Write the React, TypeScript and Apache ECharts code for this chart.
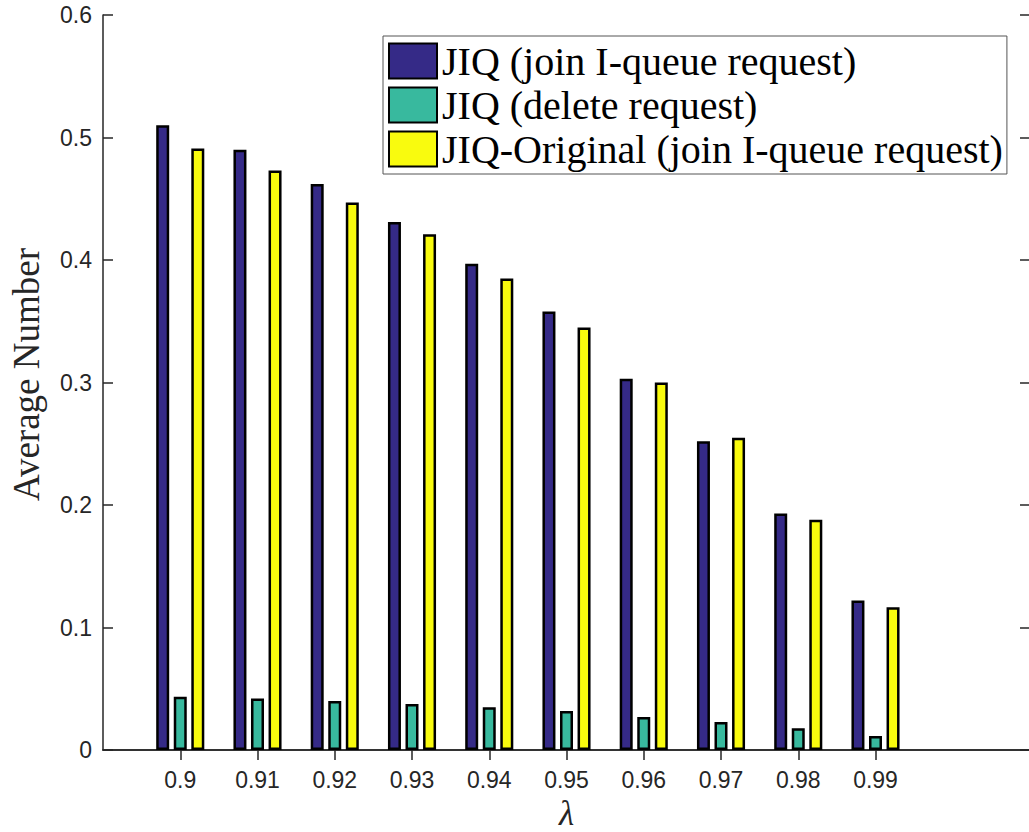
import React, { useEffect, useRef } from "react";
import * as echarts from "echarts";

const categories = ["", "0.9", "0.91", "0.92", "0.93", "0.94", "0.95", "0.96", "0.97", "0.98", "0.99", "", ""];
const joinRequest = [0.51, 0.49, 0.462, 0.431, 0.397, 0.358, 0.303, 0.252, 0.193, 0.122];
const deleteRequest = [0.0435, 0.042, 0.04, 0.0376, 0.0348, 0.0318, 0.027, 0.0229, 0.0177, 0.0114];
const originalJoin = [0.491, 0.473, 0.447, 0.421, 0.385, 0.345, 0.3, 0.255, 0.188, 0.1165];
const seriesNames = [
  "JIQ (join I-queue request)",
  "JIQ (delete request)",
  "JIQ-Original (join I-queue request)",
];
const seriesColors = ["#352A87", "#38B99E", "#F9FB0E"];
const yTicks = { min: 0, max: 0.6, interval: 0.1 };

const pad = (arr: number[]) => [null, ...arr, null, null];

export default function App() {
  const ref = useRef<HTMLDivElement>(null);
  useEffect(() => {
    if (!ref.current) return;
    const chart = echarts.init(ref.current, null, { renderer: "svg" });
    const axisColor = "#262626";
    const tickInterval = (_i: number, v: string) => v !== "";
    const seriesData = [joinRequest, deleteRequest, originalJoin];
    chart.setOption({
      animation: false,
      backgroundColor: "#ffffff",
      grid: {
        left: 103,
        top: 15,
        width: 927,
        height: 735,
        containLabel: false,
        outerBoundsMode: "none",
      },
      legend: {
        orient: "vertical",
        left: 383,
        top: 36,
        data: seriesNames,
        itemWidth: 48,
        itemHeight: 35,
        itemGap: 4,
        padding: [5, 4, 5, 5],
        backgroundColor: "#ffffff",
        borderColor: "#555555",
        borderWidth: 1,
        borderRadius: 0,
        icon: "rect",
        textStyle: {
          fontFamily: "Liberation Serif",
          fontSize: 40,
          color: "#000000",
          padding: [0, 0, 0, 0],
        },
      },
      xAxis: [
        {
          type: "category",
          data: categories,
          boundaryGap: false,
          position: "bottom",
          name: "λ",
          nameLocation: "middle",
          nameGap: 37,
          nameTextStyle: {
            fontFamily: "Liberation Serif",
            fontStyle: "italic",
            fontSize: 35,
            color: axisColor,
          },
          axisLine: { show: true, lineStyle: { color: axisColor, width: 1.5 } },
          axisTick: {
            show: true,
            inside: true,
            length: 10,
            interval: tickInterval,
            lineStyle: { color: axisColor, width: 1.5 },
          },
          axisLabel: {
            interval: 0,
            margin: 18,
            fontFamily: "Liberation Sans",
            fontSize: 23,
            color: axisColor,
          },
          splitLine: { show: false },
        },
        {
          type: "category",
          data: categories,
          boundaryGap: false,
          position: "top",
          axisLine: { show: true, lineStyle: { color: axisColor, width: 1.5 } },
          axisTick: {
            show: true,
            inside: true,
            length: 10,
            interval: tickInterval,
            lineStyle: { color: axisColor, width: 1.5 },
          },
          axisLabel: { show: false },
          splitLine: { show: false },
        },
      ],
      yAxis: [
        {
          type: "value",
          min: yTicks.min,
          max: yTicks.max,
          interval: yTicks.interval,
          position: "left",
          name: "Average Number",
          nameLocation: "middle",
          nameGap: 58,
          nameTextStyle: {
            fontFamily: "Liberation Serif",
            fontSize: 37,
            color: axisColor,
            padding: [0, 0, 0, 16],
          },
          axisLine: { show: true, lineStyle: { color: axisColor, width: 1.5 } },
          axisTick: { show: true, inside: true, length: 10, lineStyle: { color: axisColor, width: 1.5 } },
          axisLabel: {
            margin: 11,
            fontFamily: "Liberation Sans",
            fontSize: 23,
            color: axisColor,
          },
          splitLine: { show: false },
        },
        {
          type: "value",
          min: yTicks.min,
          max: yTicks.max,
          interval: yTicks.interval,
          position: "right",
          axisLine: { show: true, lineStyle: { color: axisColor, width: 1.5 } },
          axisTick: { show: true, inside: true, length: 10, lineStyle: { color: axisColor, width: 1.5 } },
          axisLabel: { show: false },
          splitLine: { show: false },
        },
      ],
      series: seriesNames.map((name, i) => ({
        name,
        type: "bar",
        xAxisIndex: 0,
        yAxisIndex: 0,
        data: pad(seriesData[i]),
        barWidth: 13,
        barGap: "35%",
        itemStyle: {
          color: seriesColors[i],
          borderColor: "#000000",
          borderWidth: 2.5,
        },
      })),
    });
    return () => chart.dispose();
  }, []);
  return (
    <div
      ref={ref}
      style={{ position: "fixed", left: 0, top: 0, width: 1029, height: 832, background: "#fff" }}
    />
  );
}
